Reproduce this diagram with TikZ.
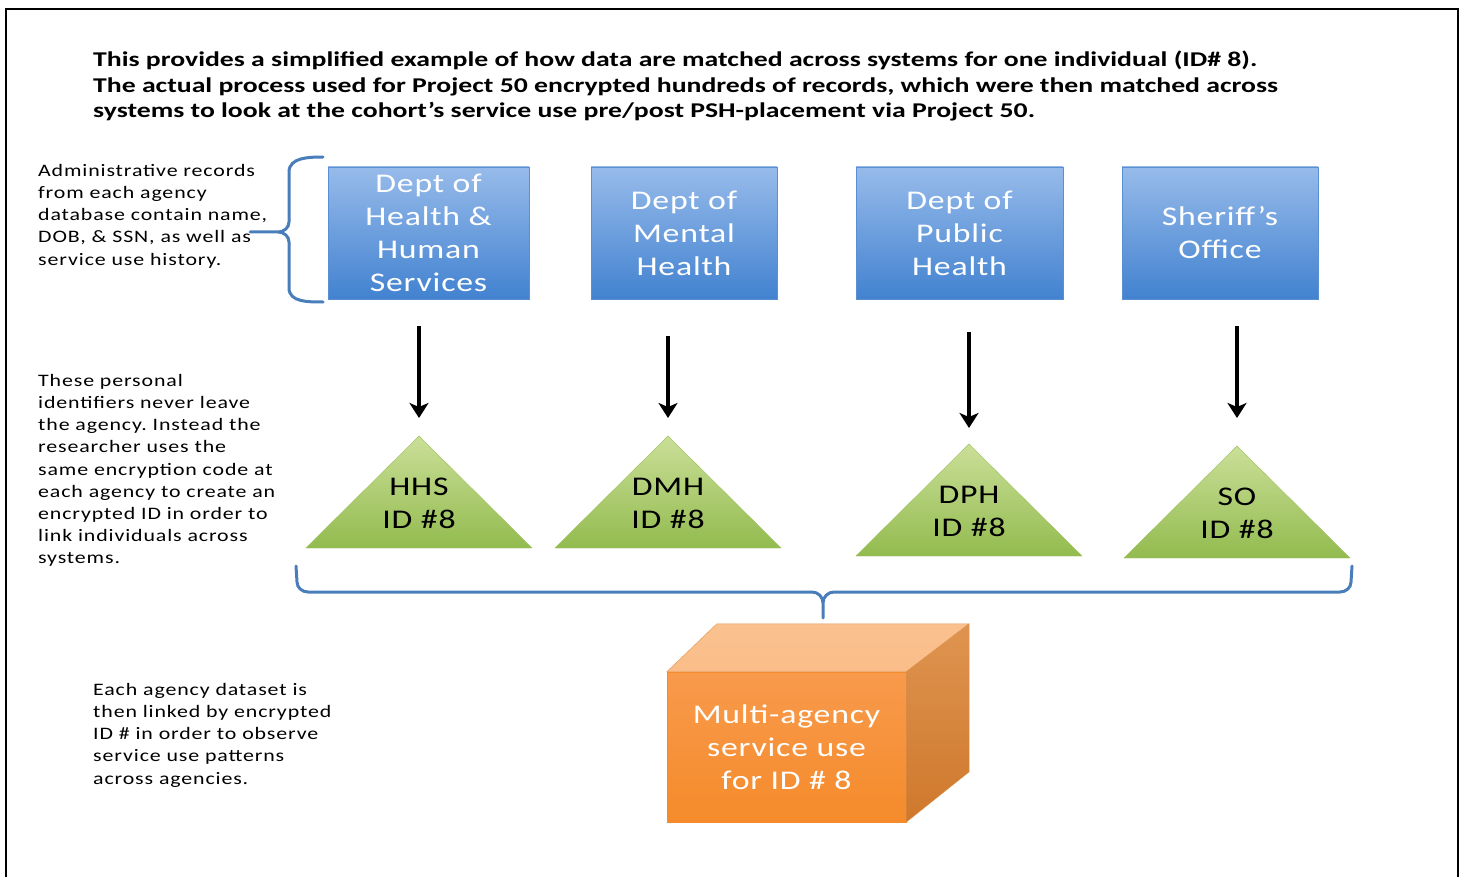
\documentclass[tikz,border=0pt]{standalone}
\usepackage{fontspec}
\setmainfont{Carlito}[FakeStretch=1.2]
\newfontfamily\titlefont{Carlito}[FakeStretch=1.32]
\newfontfamily\notefont{Carlito}[FakeStretch=1.25, LetterSpace=5]
\newfontfamily\boxfont{Carlito}[FakeStretch=1.25, LetterSpace=3]
\frenchspacing
\usetikzlibrary{arrows.meta}

\definecolor{bracecol}{HTML}{4A7EBB}
\definecolor{boxtop}{HTML}{97BBEA}
\definecolor{boxbot}{HTML}{4282D0}
\definecolor{boxedge}{HTML}{5A8FD2}
\definecolor{trigtop}{HTML}{CADF98}
\definecolor{trigbot}{HTML}{93BB4F}
\definecolor{trigedge}{HTML}{9CC05C}
\definecolor{cubefront}{HTML}{F89A4C}
\definecolor{cubefrontb}{HTML}{F58B2B}
\definecolor{cubetop}{HTML}{FAC18F}
\definecolor{cubeside}{HTML}{DE9450}
\definecolor{cubesideb}{HTML}{CF782C}

\tikzset{
  agency/.style={draw=boxedge, line width=0.8pt, top color=boxtop, bottom color=boxbot,
    text=white, align=center, inner sep=0pt, font=\boxfont\fontsize{27}{33}\selectfont},
  idlabel/.style={align=center, inner sep=0pt, font=\boxfont\fontsize{27}{33}\selectfont},
  note/.style={align=left, anchor=north west, inner sep=0pt, font=\notefont\fontsize{17.5}{22.2}\selectfont},
  bracket/.style={draw=bracecol, line width=3pt, line cap=round},
  pointer/.style={line width=3.5pt, -{Stealth[length=15pt,width=19pt,inset=4pt]}},
}

\begin{document}
\begin{tikzpicture}[x=1pt, y=-1pt]
\useasboundingbox (0,0) rectangle (1463,877);
\draw[line width=2.5pt] (6,880) -- (6,9) -- (1458,9) -- (1458,880);

\node[anchor=north west, inner sep=0pt, align=left, font=\titlefont\bfseries\fontsize{21}{25.3}\selectfont] (title) at (93,51)
  {This provides a simplified example of how data are matched across systems for one individual (ID\# 8).\\
   The actual process used for Project 50 encrypted hundreds of records, which were then matched across\\
   systems to look at the cohort’s service use pre/post PSH-placement via Project 50.};

\node[note] (records) at (38,164) {Administrative records\\from each agency\\database contain name,\\DOB, \& SSN, as well as\\service use history.};
\node[note] (ident) at (38,374) {These personal\\identifiers never leave\\the agency. Instead the\\researcher uses the\\same encryption code at\\each agency to create an\\encrypted ID in order to\\link individuals across\\systems.};
\node[note] (linked) at (93,683) {Each agency dataset is\\then linked by encrypted\\ID \# in order to observe\\service use patterns\\across agencies.};

\draw[bracket] (323,157) to[out=180,in=90] (289,172) -- (289,222) to[out=-90,in=0] (278,232) -- (250,232)
  (278,232) to[out=0,in=90] (289,242) -- (289,288) to[out=-90,in=180] (323,302);

\node[agency, minimum width=201pt, minimum height=132pt] (hhs) at (428.5,233) {Dept of\\Health \&\\Human\\Services};
\node[agency, minimum width=186pt, minimum height=132pt] (dmh) at (684,233) {Dept of\\Mental\\Health};
\node[agency, minimum width=207pt, minimum height=132pt] (dph) at (959.5,233) {Dept of\\Public\\Health};
\node[agency, minimum width=196pt, minimum height=132pt] (so) at (1220,233) {Sheriff’s\\Office};

\foreach \n/\x/\y/\t in {hhs/419/436/HHS, dmh/668/436/DMH, dph/969/444/DPH, so/1237/446/SO} {
  \shade[draw=trigedge, top color=trigtop, bottom color=trigbot] (\x,\y) coordinate (\n apex) -- ++(113,112) -- ++(-226,0) -- cycle;
  \node[idlabel] (\n id) at (\x,\y+67) {\t\\ID \#8};
}

\foreach \n/\a/\b in {hhs/27/18, dmh/37/18, dph/33/16, so/27/28}
  \draw[pointer, shorten <=\a pt, shorten >=\b pt] (\n.south -| \n apex) -- (\n apex);

\draw[bracket] (296,566) -- (297,582) to[out=-90,in=180] (308,592) -- (812,592) to[out=0,in=90] (823,603) -- (823,618)
  (823,603) to[out=90,in=180] (834,592) -- (1340,592) to[out=0,in=-90] (1351,582) -- (1352,566);

\node[draw=cubefrontb, top color=cubefront, bottom color=cubefrontb, minimum width=239pt, minimum height=150pt,
  text=white, align=center, font=\boxfont\fontsize{27}{33}\selectfont] (multi) at (786.5,747) {Multi-agency\\service use\\for ID \# 8};
\shade[draw=cubeside, top color=cubetop, bottom color=cubetop!90!cubefront] (multi.north west) -- ++(50,-48) -- ++(252,0) -- (multi.north east) -- cycle;
\shade[draw=cubeside, top color=cubeside, bottom color=cubesideb] (multi.north east) -- ++(63,-48) -- ++(0,148) -- (multi.south east) -- cycle;
\end{tikzpicture}
\end{document}
